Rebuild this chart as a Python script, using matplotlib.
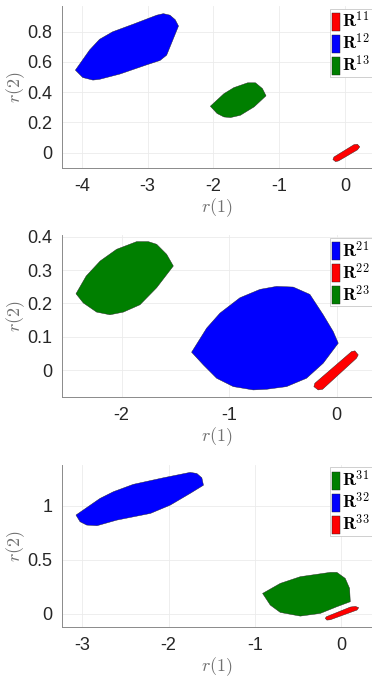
import matplotlib
matplotlib.use('Agg')
import matplotlib.pyplot as plt
from matplotlib.patches import Polygon

plt.rcParams['font.family'] = ['Liberation Sans', 'DejaVu Sans']
plt.rcParams['mathtext.fontset'] = 'cm'
plt.rcParams['axes.unicode_minus'] = False

# region outlines (r(1), r(2))
R11 = [(-0.184, -0.046), (-0.143, -0.060), (-0.097, -0.055), (0.189, 0.018),
       (0.224, 0.038), (0.189, 0.055), (0.138, 0.053), (-0.168, -0.029)]
R12 = [(-4.097, 0.546), (-3.985, 0.497), (-3.83, 0.48), (-3.73, 0.485), (-3.42, 0.52),
       (-3.02, 0.58), (-2.81, 0.61), (-2.71, 0.645), (-2.53, 0.838), (-2.58, 0.88),
       (-2.66, 0.91), (-2.76, 0.92), (-2.86, 0.91), (-3.22, 0.85), (-3.53, 0.80),
       (-3.73, 0.75), (-3.88, 0.68)]
R13 = [(-2.046, 0.307), (-1.944, 0.259), (-1.84, 0.236), (-1.74, 0.232), (-1.59, 0.247),
       (-1.38, 0.303), (-1.20, 0.376), (-1.255, 0.424), (-1.36, 0.462), (-1.48, 0.462),
       (-1.69, 0.43), (-1.84, 0.39)]

R21 = [(-1.349, 0.054), (-1.240, 0.016), (-1.116, -0.024), (-0.961, -0.049),
       (-0.775, -0.059), (-0.651, -0.057), (-0.465, -0.049), (-0.279, -0.024),
       (-0.124, 0.021), (0.016, 0.081), (-0.031, 0.116), (-0.124, 0.166),
       (-0.248, 0.227), (-0.403, 0.249), (-0.558, 0.251), (-0.713, 0.242),
       (-0.899, 0.217), (-1.085, 0.171), (-1.209, 0.126)]
R22 = [(-0.211, -0.049), (-0.171, -0.059), (-0.130, -0.057), (0.186, 0.036),
       (0.202, 0.046), (0.171, 0.058), (0.140, 0.056), (-0.202, -0.039)]
R23 = [(-2.425, 0.229), (-2.357, 0.2015), (-2.233, 0.174), (-2.109, 0.166),
       (-1.984, 0.174), (-1.829, 0.196), (-1.674, 0.247), (-1.519, 0.312),
       (-1.581, 0.347), (-1.674, 0.377), (-1.752, 0.385), (-1.86, 0.385),
       (-2.047, 0.362), (-2.20, 0.327), (-2.33, 0.282)]

R31 = [(-0.909, 0.188), (-0.82, 0.08), (-0.704, 0.012), (-0.472, -0.022), (-0.24, 0.003),
       (-0.047, 0.065), (0.108, 0.111), (0.10, 0.235), (0.05, 0.327), (-0.047, 0.383),
       (-0.124, 0.383), (-0.472, 0.343), (-0.704, 0.281)]
R32 = [(-3.074, 0.914), (-3.027, 0.852), (-2.95, 0.821), (-2.83, 0.815), (-2.60, 0.867),
       (-2.21, 0.929), (-1.98, 1.006), (-1.75, 1.114), (-1.595, 1.19), (-1.614, 1.259),
       (-1.672, 1.299), (-1.75, 1.309), (-2.06, 1.259), (-2.41, 1.198), (-2.64, 1.13),
       (-2.795, 1.068)]
R33 = [(-0.182, -0.043), (-0.163, -0.059), (-0.124, -0.056), (0.186, 0.034),
       (0.206, 0.056), (0.167, 0.068), (0.109, 0.062), (-0.17, -0.028)]

panels = [
    dict(pos=[0.1667, 0.752, 0.8333, 0.239], xlim=(-4.30, 0.41), ylim=(-0.103, 0.97),
         xticks=[-4, -3, -2, -1, 0], yticks=[0, 0.2, 0.4, 0.6, 0.8],
         regions=[(R11, 'red', '11'), (R12, 'blue', '12'), (R13, 'green', '13')]),
    dict(pos=[0.1667, 0.4145, 0.8333, 0.2385], xlim=(-2.555, 0.33), ylim=(-0.08, 0.404),
         xticks=[-2, -1, 0], yticks=[0, 0.1, 0.2, 0.3, 0.4],
         regions=[(R21, 'blue', '21'), (R22, 'red', '22'), (R23, 'green', '23')]),
    dict(pos=[0.1667, 0.0752, 0.8333, 0.2389], xlim=(-3.236, 0.36), ylim=(-0.123, 1.377),
         xticks=[-3, -2, -1, 0], yticks=[0, 0.5, 1],
         regions=[(R31, 'green', '31'), (R32, 'blue', '32'), (R33, 'red', '33')]),
]

colors = {'red': '#ff0000', 'blue': '#0000ff', 'green': '#007f00'}

fig = plt.figure(figsize=(3.72, 6.78), dpi=100)

for p in panels:
    ax = fig.add_axes(p['pos'])
    handles = []
    for verts, c, lab in p['regions']:
        poly = Polygon(verts, closed=True, facecolor=colors[c], edgecolor='#202020',
                       linewidth=0.3, label=r'$\mathbf{R}^{%s}$' % lab, joinstyle='round')
        ax.add_patch(poly)
        handles.append(poly)
    ax.set_xlim(p['xlim'])
    ax.set_ylim(p['ylim'])
    ax.set_xticks(p['xticks'])
    ax.set_yticks(p['yticks'])
    ax.set_yticklabels(['%g' % v for v in p['yticks']])
    ax.grid(True, color='#ebebeb', linewidth=0.6)
    ax.set_axisbelow(True)
    for s in ['top', 'right']:
        ax.spines[s].set_visible(False)
    for s in ['left', 'bottom']:
        ax.spines[s].set_color('#8a8a8a')
        ax.spines[s].set_linewidth(0.7)
    ax.tick_params(length=0, labelsize=13, colors='#262626', pad=7)
    ax.set_xlabel(r'$r(1)$', fontsize=13, color='#707070', labelpad=1)
    ax.set_ylabel(r'$r(2)$', fontsize=13, color='#707070', labelpad=0)
    leg = ax.legend(handles=handles, loc='upper right', bbox_to_anchor=(1.0, 0.985),
                    fontsize=12.5, handlelength=0.45, handleheight=1.2, handletextpad=0.12,
                    labelspacing=0.1, borderpad=0.12, borderaxespad=0.0,
                    fancybox=False, framealpha=1)
    leg.get_frame().set_edgecolor('#c8c8c8')
    leg.get_frame().set_linewidth(0.6)

fig.savefig('out.png', dpi=100)
